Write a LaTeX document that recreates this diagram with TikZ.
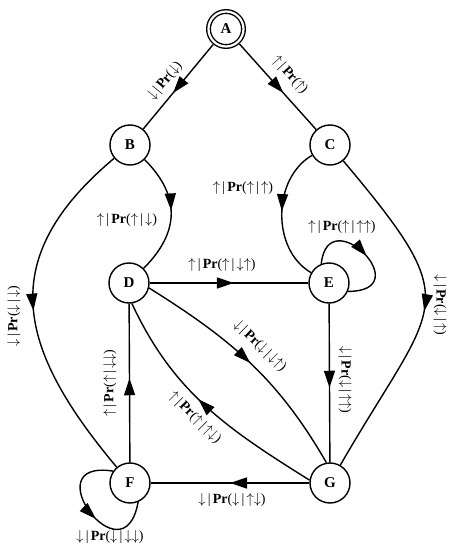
\documentclass[tikz,border=0pt]{standalone}
\usepackage{fontspec}
\setmainfont{Liberation Serif}
\usetikzlibrary{arrows.meta, decorations.markings}
\newcommand{\myup}{$\uparrow$}
\newcommand{\mydn}{$\downarrow$}
\newcommand{\mybar}{\kern2.2pt|\kern2.2pt}
\newcommand{\mylab}[2]{#1\mybar\textbf{Pr}(#2)}
\begin{document}
\begin{tikzpicture}[x=1pt, y=1pt,
  state/.style={circle, draw, line width=1.4pt, minimum size=40pt, inner sep=0pt, font=\fontsize{15}{17}\selectfont\bfseries},
  edge/.style={line width=1.4pt},
  midarrow/.style={postaction={decorate}, decoration={markings, mark=at position #1 with {\arrow{Triangle[length=17pt,width=11pt]}}}},
  lab/.style={font=\fontsize{14}{16}\selectfont, inner sep=0pt}]
\useasboundingbox (0,0) rectangle (460,550);
% states
\node[state, double, double distance=2.2pt, minimum size=35pt] (A) at (226,521) {A};
\node[state] (B) at (130,405) {B};
\node[state] (C) at (330,405) {C};
\node[state] (D) at (129,267) {D};
\node[state] (E) at (329,267) {E};
\node[state] (F) at (130,67) {F};
\node[state] (G) at (330,67) {G};
% edges
\draw[edge, midarrow=0.58, shorten <=2pt] (A) -- (B);
\draw[edge, midarrow=0.58, shorten <=2pt] (A) -- (C);
\draw[edge, midarrow=0.47] (B) to[out=-45, in=45, looseness=1.2] (D);
\draw[edge, midarrow=0.48] (C) to[out=-150, in=150, looseness=1] (E);
\draw[edge, midarrow=0.5] (B) to[out=-140, in=130, looseness=1.29] (F);
\draw[edge, midarrow=0.5] (C) to[out=-50, in=60, looseness=1.63] (G);
\draw[edge, midarrow=0.53] (D) -- (E);
\draw[edge, midarrow=0.53] (E.112) .. controls +(84:65) and +(0:72) .. (E.-24);
\draw[edge, midarrow=0.53] (E) -- (G);
\draw[edge, midarrow=0.53] (F) -- (D);
\draw[edge, midarrow=0.5] (D.-14) to[out=-32, in=120] (G.100);
\draw[edge, midarrow=0.54] (G.172) to[out=148, in=-65] (D.-82);
\draw[edge, midarrow=0.5] (G) -- (F);
\draw[edge, midarrow=0.56] (F.145) .. controls +(171:82) and +(-100:82) .. (F.-67);
% labels
\node[lab, rotate=50.4] (lAB) at (165,469) {\mylab{\mydn}{\mydn}};
\node[lab, rotate=-48] (lAC) at (290,475) {\mylab{\myup}{\myup}};
\node[lab] (lBD) at (127,330) {\mylab{\myup}{\myup\mybar\mydn}};
\node[lab] (lCE) at (243,362) {\mylab{\myup}{\myup\mybar\myup}};
\node[lab, rotate=90] (lBF) at (14,234) {\mylab{\mydn}{\mydn\mybar\mydn}};
\node[lab, rotate=-90] (lCG) at (440,245) {\mylab{\mydn}{\mydn\mybar\myup}};
\node[lab] (lDE) at (222,285) {\mylab{\myup}{\myup\mybar\mydn\myup}};
\node[lab] (lEE) at (342,323) {\mylab{\myup}{\myup\mybar\myup\myup}};
\node[lab, rotate=-90] (lEG) at (345,170) {\mylab{\mydn}{\mydn\mybar\myup\myup}};
\node[lab, rotate=90] (lFD) at (110,167) {\mylab{\myup}{\myup\mybar\mydn\mydn}};
\node[lab, rotate=-44] (lDG) at (260,204) {\mylab{\mydn}{\mydn\mybar\mydn\myup}};
\node[lab, rotate=-45] (lGD) at (195,132) {\mylab{\myup}{\myup\mybar\myup\mydn}};
\node[lab] (lGF) at (232,50) {\mylab{\mydn}{\mydn\mybar\myup\mydn}};
\node[lab] (lFF) at (110,13) {\mylab{\mydn}{\mydn\mybar\mydn\mydn}};
\end{tikzpicture}
\end{document}
